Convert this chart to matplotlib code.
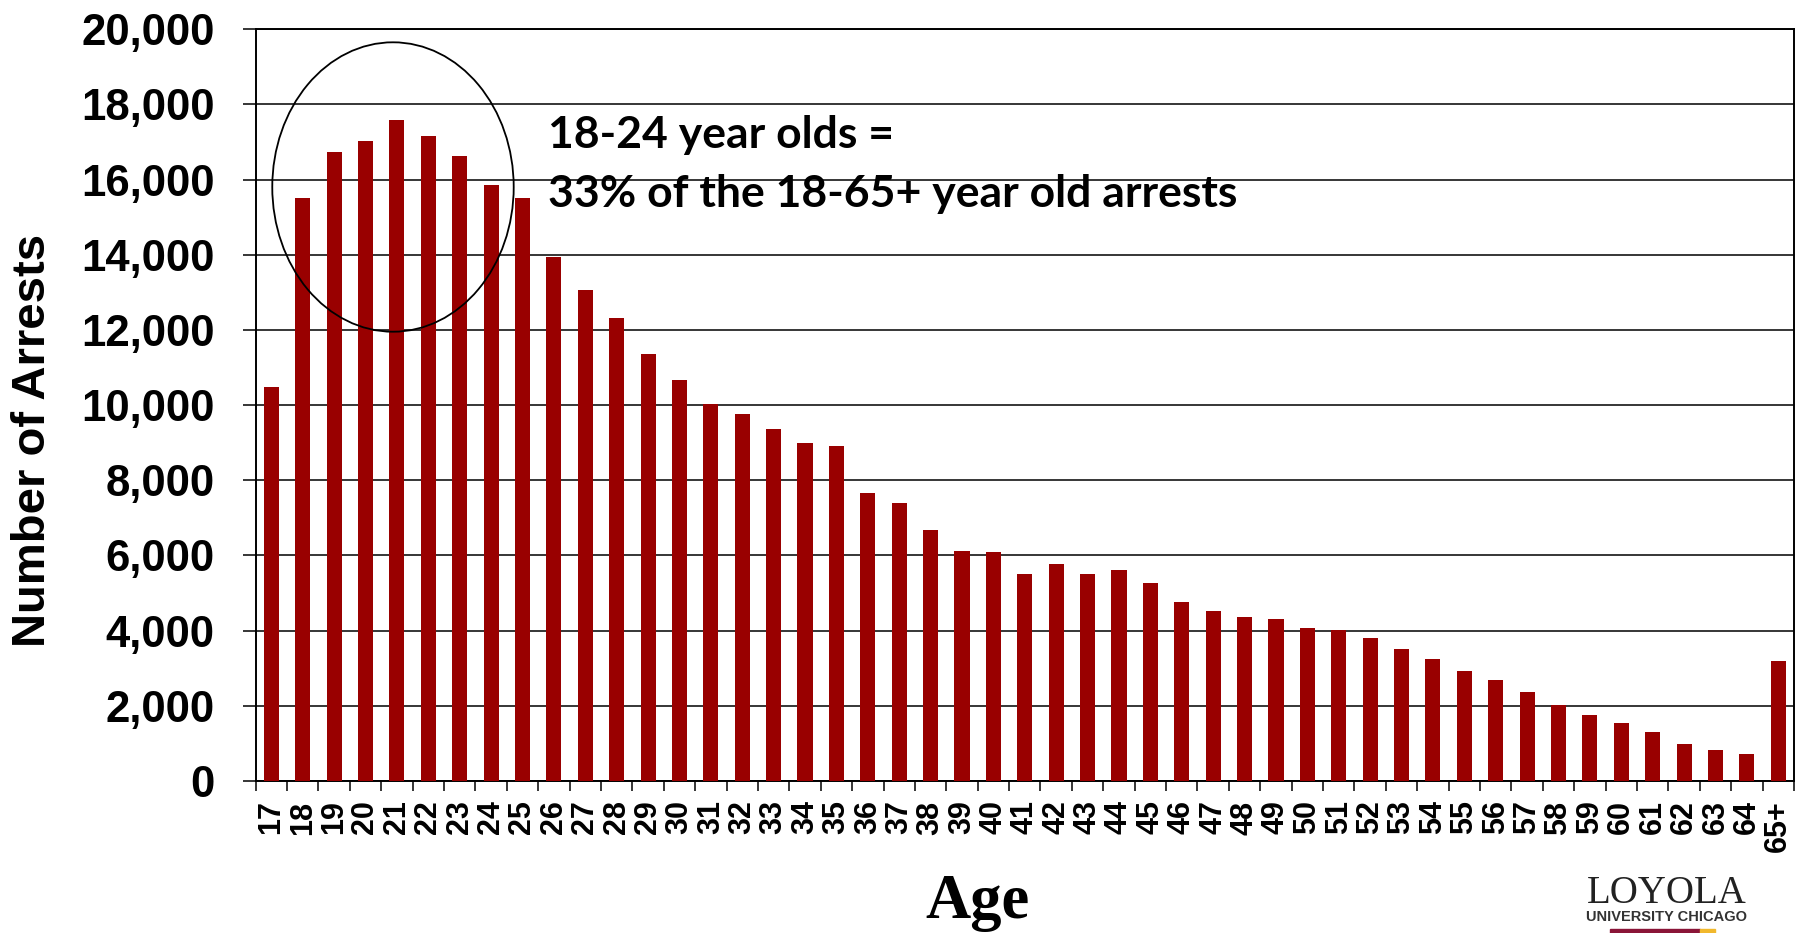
import numpy as np
import matplotlib
matplotlib.use("Agg")
import matplotlib.pyplot as plt
from matplotlib.patches import Ellipse, Rectangle
from matplotlib.ticker import FixedLocator, StrMethodFormatter

# arrests by age
ages = [str(a) for a in range(17, 65)] + ["65+"]
arrests = [10470, 15500, 16740, 17040, 17600, 17150, 16640, 15870, 15500, 13930,
           13060, 12330, 11360, 10680, 10020, 9760, 9360, 9000, 8900, 7650,
           7400, 6680, 6130, 6080, 5510, 5770, 5510, 5620, 5270, 4770,
           4510, 4370, 4300, 4060, 4020, 3800, 3500, 3240, 2930, 2680,
           2370, 2020, 1750, 1550, 1300, 990, 830, 730, 3190]
y_ticks = list(range(0, 20001, 2000))

note_line1 = "18-24 year olds ="
note_line2 = "33% of the 18-65+ year old arrests"

W, H = 1802, 933
fig = plt.figure(figsize=(W / 100, H / 100), dpi=100)
ax = fig.add_axes([255.6 / W, 1 - 781 / H, (1794 - 255.6) / W, (781 - 29.3) / H])

x = np.arange(len(ages))
ax.bar(x, arrests, width=0.48, color="#990000", zorder=3)

ax.set_xlim(-0.5, len(ages) - 0.5)
ax.set_ylim(0, 20000)

# y axis
ax.set_yticks(y_ticks)
ax.yaxis.set_major_formatter(StrMethodFormatter("{x:,.0f}"))
ax.tick_params(axis="y", direction="out", length=9.5, width=1.1, pad=20,
               labelsize=31.5, colors="black")
for lab in ax.get_yticklabels():
    lab.set_fontfamily("Liberation Sans")
    lab.set_fontweight("bold")
ax.yaxis.grid(True, color="black", linewidth=1.1, zorder=1)
ax.set_axisbelow(True)

# x axis: labels at bar centres, tick marks between bars
ax.set_xticks(x)
ax.set_xticklabels(ages, rotation=90, fontsize=22, fontweight="bold",
                   fontfamily="Liberation Sans")
ax.tick_params(axis="x", which="major", length=0, pad=14)
ax.xaxis.set_minor_locator(FixedLocator(np.arange(-0.5, len(ages), 1.0)))
ax.tick_params(axis="x", which="minor", direction="out", length=7.5, width=1.1)

for side in ["left", "bottom", "right", "top"]:
    ax.spines[side].set_color("black")
    ax.spines[side].set_linewidth(1.4)

# circle round the 18-24 bars
ax.add_patch(Ellipse((3.876, 15804), width=7.69, height=7700, fill=False,
                     edgecolor="black", linewidth=1.3, zorder=4))

fig.text(548 / W, 1 - 148 / H, note_line1, fontsize=32, fontweight="bold",
         fontfamily="Lato", va="baseline")
fig.text(548 / W, 1 - 207 / H, note_line2, fontsize=32, fontweight="bold",
         fontfamily="Lato", va="baseline")

fig.text(33 / W, 1 - 440 / H, "Number of Arrests", rotation=90, fontsize=34,
         fontweight="bold", fontfamily="Liberation Sans", ha="center", va="center")
fig.text(977 / W, 1 - 918 / H, "Age", fontsize=45, fontweight="bold",
         fontfamily="Liberation Serif", ha="center", va="baseline")

# logo
fig.text(1667 / W, 1 - 903 / H, "LOYOLA", fontsize=28, fontfamily="Liberation Serif",
         color="#222222", ha="center", va="baseline")
fig.text(1667 / W, 1 - 921 / H, "UNIVERSITY CHICAGO", fontsize=10.5, fontweight="bold",
         fontfamily="Liberation Sans", color="#333333", ha="center", va="baseline")
fig.patches.append(Rectangle((1610 / W, 0), 90 / W, 4 / H, transform=fig.transFigure,
                             color="#8a1538"))
fig.patches.append(Rectangle((1700 / W, 0), 15 / W, 4 / H, transform=fig.transFigure,
                             color="#f1b82d"))

fig.savefig("out.png", dpi=100)
